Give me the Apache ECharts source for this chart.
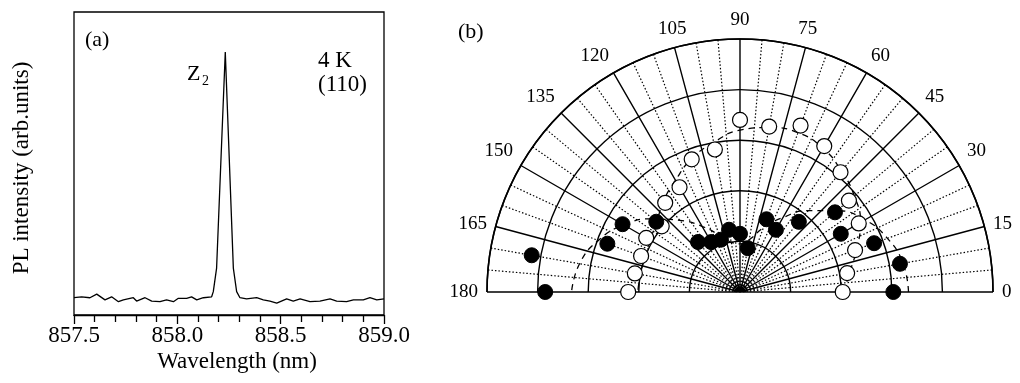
<!DOCTYPE html>
<html>
<head>
<meta charset="utf-8">
<script src="https://cdn.jsdelivr.net/npm/echarts@6/dist/echarts.min.js"></script>
<style>
  html, body { margin: 0; padding: 0; background: #fff; }
  #chart { width: 1020px; height: 383px; }
</style>
</head>
<body>
<div id="chart"></div>
<script>
// panel (a): PL spectrum
const wavelength = [857.500, 857.537, 857.577, 857.610, 857.650, 857.682, 857.715, 857.739, 857.787, 857.803,
  857.844, 857.876, 857.916, 857.948, 857.981, 858.005, 858.045, 858.069, 858.094, 858.126, 858.166,
  858.174, 858.190, 858.232, 858.271, 858.287,
  858.303, 858.335, 858.384, 858.416, 858.448, 858.481, 858.529, 858.561, 858.594, 858.642, 858.690,
  858.739, 858.771, 858.819, 858.852, 858.900, 858.932, 858.965, 859.000];
const intensity = [0.057, 0.060, 0.057, 0.069, 0.050, 0.060, 0.044, 0.050, 0.057, 0.046,
  0.057, 0.046, 0.044, 0.050, 0.044, 0.055, 0.055, 0.060, 0.050, 0.057, 0.060,
  0.077, 0.155, 0.868, 0.155, 0.077,
  0.057, 0.053, 0.057, 0.050, 0.046, 0.039, 0.053, 0.046, 0.053, 0.044, 0.046,
  0.053, 0.046, 0.044, 0.050, 0.050, 0.057, 0.050, 0.053];

// panel (b): polarization dependence, angle in degrees, radius in ring units
const angles = [0, 10, 20, 30, 40, 50, 60, 70, 80, 90, 100, 110, 120, 130, 140, 150, 160, 170, 180];
const openR = [2.03, 2.15, 2.42, 2.71, 2.81, 3.09, 3.33, 3.50, 3.32, 3.40, 2.86, 2.79, 2.39, 2.30, 2.02, 2.14, 2.08, 2.11, 2.21];
const filledR = [3.03, 3.21, 2.82, 2.30, 2.45, 1.81, 1.42, 1.53, 0.88, 1.15, 1.25, 1.10, 1.14, 1.29, 2.16, 2.68, 2.79, 4.18, 3.85];
const openFitR = [2.05, 2.20, 2.45, 2.75, 2.95, 3.12, 3.28, 3.35, 3.30, 3.20, 3.00, 2.80, 2.55, 2.35, 2.15, 2.05, 2.00, 2.00, 2.02];
const filledFitR = [3.33, 3.27, 3.10, 2.85, 2.50, 2.10, 1.70, 1.35, 1.05, 0.95, 1.00, 1.20, 1.50, 1.85, 2.25, 2.65, 2.98, 3.22, 3.33];

const serif = "'Liberation Serif', 'Times New Roman', serif";

const chart = echarts.init(document.getElementById('chart'), null, { renderer: 'canvas' });

const option = {
  animation: false,
  backgroundColor: '#fff',
  grid: {
    left: 74, top: 12, width: 310, height: 303,
    show: true, borderColor: '#000', borderWidth: 1.3, backgroundColor: 'transparent'
  },
  xAxis: {
    type: 'value', min: 857.5, max: 859.0, interval: 0.5,
    axisLine: { show: true, lineStyle: { color: '#000', width: 1.3 } },
    axisTick: { show: true, inside: false, length: 9, lineStyle: { color: '#000', width: 1.3 } },
    minorTick: { show: true, splitNumber: 5, length: 7, lineStyle: { color: '#000', width: 1.3 } },
    axisLabel: {
      margin: 9, color: '#000', fontFamily: serif, fontSize: 23,
      formatter: v => v.toFixed(1)
    },
    splitLine: { show: false }
  },
  yAxis: {
    type: 'value', min: 0, max: 1,
    axisLine: { show: false }, axisTick: { show: false },
    axisLabel: { show: false }, splitLine: { show: false }
  },
  polar: { center: [740, 292], radius: 253 },
  angleAxis: {
    type: 'value', min: 0, max: 180, interval: 15,
    startAngle: 0, endAngle: 180, clockwise: false,
    axisLine: { show: true, lineStyle: { color: '#000', width: 1.6 } },
    axisTick: { show: false },
    axisLabel: { show: true, margin: 9, color: '#000', fontFamily: serif, fontSize: 19 },
    splitLine: { show: true, lineStyle: { color: '#000', width: 1.4 } },
    minorTick: { show: false, splitNumber: 3 },
    minorSplitLine: { show: true, lineStyle: { color: '#000', width: 1.2, type: [1.5, 2] } }
  },
  radiusAxis: {
    type: 'value', min: 0, max: 5, interval: 1,
    axisLine: { show: false }, axisTick: { show: false }, axisLabel: { show: false },
    splitLine: { show: true, lineStyle: { color: '#000', width: 1.4 } }
  },
  series: [
    {
      name: 'PL', type: 'line', xAxisIndex: 0, yAxisIndex: 0,
      data: wavelength.map((w, i) => [w, intensity[i]]),
      showSymbol: false, lineStyle: { color: '#000', width: 1.3 }
    },
    {
      name: 'open fit', type: 'line', coordinateSystem: 'polar', smooth: true,
      data: angles.map((a, i) => [openFitR[i], a]),
      showSymbol: false, z: 3,
      lineStyle: { color: '#000', width: 1.3, type: [6, 5] }
    },
    {
      name: 'filled fit', type: 'line', coordinateSystem: 'polar', smooth: true,
      data: angles.map((a, i) => [filledFitR[i], a]),
      showSymbol: false, z: 3,
      lineStyle: { color: '#000', width: 1.3, type: [6, 5] }
    },
    {
      name: 'open', type: 'scatter', coordinateSystem: 'polar',
      data: angles.map((a, i) => [openR[i], a]),
      symbol: 'circle', symbolSize: 15, z: 5,
      itemStyle: { color: '#fff', borderColor: '#000', borderWidth: 1.2, opacity: 1 }
    },
    {
      name: 'filled', type: 'scatter', coordinateSystem: 'polar',
      data: angles.map((a, i) => [filledR[i], a]),
      symbol: 'circle', symbolSize: 15, z: 6,
      itemStyle: { color: '#000', borderColor: '#000', borderWidth: 1, opacity: 1 }
    }
  ],
  graphic: [
    { type: 'text', left: 85, top: 29, style: { text: '(a)', fill: '#000', font: '22px ' + serif } },
    { type: 'text', left: 187, top: 63, style: { text: 'Z', fill: '#000', font: '22px ' + serif } },
    { type: 'text', left: 202, top: 74, style: { text: '2', fill: '#000', font: '14px ' + serif } },
    { type: 'text', left: 318, top: 49, style: { text: '4 K', fill: '#000', font: '23px ' + serif } },
    { type: 'text', left: 318, top: 73, style: { text: '(110)', fill: '#000', font: '23px ' + serif } },
    { type: 'text', left: 458, top: 21, style: { text: '(b)', fill: '#000', font: '22px ' + serif } },
    {
      type: 'text', x: 237, y: 362,
      style: { text: 'Wavelength (nm)', fill: '#000', font: '23px ' + serif, align: 'center', verticalAlign: 'middle' }
    },
    {
      type: 'text', x: 22, y: 168, rotation: Math.PI / 2,
      style: { text: 'PL intensity (arb.units)', fill: '#000', font: '23px ' + serif, align: 'center', verticalAlign: 'middle' }
    }
  ]
};

chart.setOption(option);
</script>
</body>
</html>
